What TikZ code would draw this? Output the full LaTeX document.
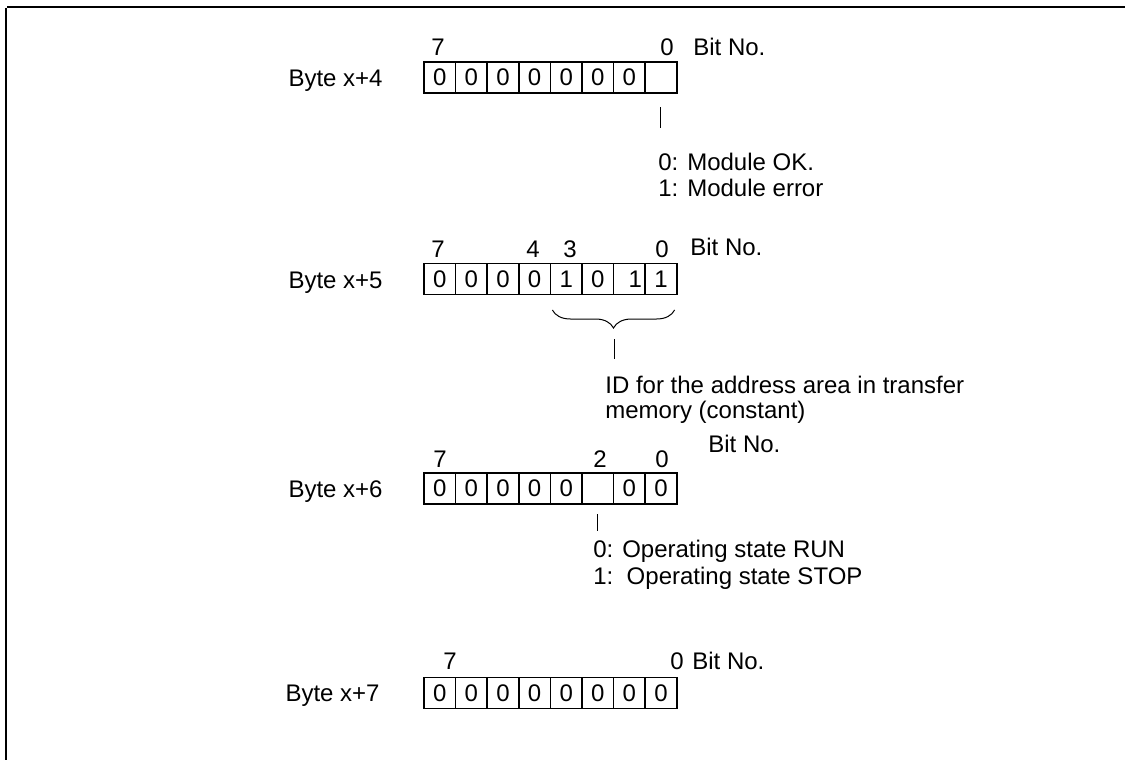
\documentclass[tikz,border=0pt]{standalone}
\usepackage{fontspec}
\setmainfont{Liberation Sans}
\usepackage{tikz}
\usetikzlibrary{decorations.pathreplacing}
\pgfdeclarelayer{edgelayer}
\pgfdeclarelayer{nodelayer}
\pgfsetlayers{edgelayer,nodelayer,main}
\tikzstyle{none}=[inner sep=0pt, font=\fontsize{12}{14}\selectfont]
\tikzstyle{edge}=[draw=black, line width=0.5pt]
\tikzstyle{frame}=[draw=black, line width=1pt]
\tikzstyle{bit}=[rectangle, draw=black, line width=0.8pt, minimum width=15.8pt, minimum height=15.5pt, inner sep=0pt, font=\fontsize{12}{14}\selectfont]
\tikzstyle{bytename}=[none, anchor=base east]
\tikzstyle{note}=[none, anchor=base west]
\tikzstyle{bitno}=[none, anchor=west]
\tikzstyle{brace}=[edge, decorate, decoration={brace, mirror, amplitude=9pt}]

\begin{document}
\begin{tikzpicture}[x=0.5pt, y=-0.5pt]
				\useasboundingbox (0, 0) rectangle (1126, 761);
				\begin{pgfonlayer}{nodelayer}
					% Byte x+4
					\node [style=bytename] (0) at (383, 86) {Byte x+4};
					\node [style=bit] (1) at (439.8, 77.5) {0};
					\node [style=bit] (2) at (471.4, 77.5) {0};
					\node [style=bit] (3) at (503, 77.5) {0};
					\node [style=bit] (4) at (534.6, 77.5) {0};
					\node [style=bit] (5) at (566.2, 77.5) {0};
					\node [style=bit] (6) at (597.8, 77.5) {0};
					\node [style=bit] (7) at (629.4, 77.5) {\raisebox{-2pt}{0}};
					\node [style=bit] (8) at (661, 77.5) {};
					\node [style=none] (9) at (438, 47) {7};
					\node [style=none] (10) at (667, 47) {0};
					\node [style=bitno] (11) at (693, 47) {Bit No.};
					\node [style=none] (12) at (660, 106) {};
					\node [style=none] (13) at (660, 129) {};
					\node [style=note] (14) at (658, 170) {0: Module OK.};
					\node [style=note] (15) at (658, 196) {1: Module error};
					% Byte x+5
					\node [style=bytename] (16) at (383, 288) {Byte x+5};
					\node [style=bit] (17) at (439.8, 279) {0};
					\node [style=bit] (18) at (471.4, 279) {0};
					\node [style=bit] (19) at (503, 279) {0};
					\node [style=bit] (20) at (534.6, 279) {0};
					\node [style=bit] (21) at (566.2, 279) {1};
					\node [style=bit] (22) at (597.8, 279) {0};
					\node [style=bit] (23) at (629.4, 279) {\hspace*{6pt}1};
					\node [style=bit] (24) at (661, 279) {1};
					\node [style=none] (25) at (438, 249) {7};
					\node [style=none] (26) at (533, 249) {4};
					\node [style=none] (27) at (570, 249) {3};
					\node [style=none] (28) at (662, 249) {0};
					\node [style=bitno] (29) at (690, 247) {Bit No.};
					\node [style=none] (30) at (551, 310) {};
					\node [style=none] (31) at (676, 310) {};
					\node [style=none] (32) at (614, 338) {};
					\node [style=none] (33) at (614, 360) {};
					\node [style=note] (34) at (605, 393) {ID for the address area in transfer};
					\node [style=note] (35) at (605, 418) {memory (constant)};
					% Byte x+6
					\node [style=bytename] (36) at (383, 497) {Byte x+6};
					\node [style=bit] (37) at (439.8, 488.5) {0};
					\node [style=bit] (38) at (471.4, 488.5) {0};
					\node [style=bit] (39) at (503, 488.5) {0};
					\node [style=bit] (40) at (534.6, 488.5) {0};
					\node [style=bit] (41) at (566.2, 488.5) {0};
					\node [style=bit] (42) at (597.8, 488.5) {};
					\node [style=bit] (43) at (629.4, 488.5) {0};
					\node [style=bit] (44) at (661, 488.5) {0};
					\node [style=none] (45) at (440, 459) {7};
					\node [style=none] (46) at (600, 459) {2};
					\node [style=none] (47) at (662, 459) {0};
					\node [style=bitno] (48) at (708, 444) {Bit No.};
					\node [style=none] (49) at (597, 513) {};
					\node [style=none] (50) at (597, 532) {};
					\node [style=note] (51) at (593, 557) {0: Operating state RUN};
					\node [style=note] (52) at (593, 584) {1:\ \ Operating state STOP};
					% Byte x+7
					\node [style=bytename] (53) at (380, 701.6) {Byte x+7};
					\node [style=bit] (54) at (439.8, 693) {0};
					\node [style=bit] (55) at (471.4, 693) {0};
					\node [style=bit] (56) at (503, 693) {0};
					\node [style=bit] (57) at (534.6, 693) {0};
					\node [style=bit] (58) at (566.2, 693) {0};
					\node [style=bit] (59) at (597.8, 693) {0};
					\node [style=bit] (60) at (629.4, 693) {0};
					\node [style=bit] (61) at (661, 693) {0};
					\node [style=none] (62) at (450, 661) {7};
					\node [style=none] (63) at (677, 661) {0};
					\node [style=bitno] (64) at (692, 661) {Bit No.};
					% frame corners
					\node [style=none] (65) at (6, 7) {};
					\node [style=none] (66) at (1126, 7) {};
					\node [style=none] (67) at (6, 761) {};
				\end{pgfonlayer}
				\begin{pgfonlayer}{edgelayer}
					\draw [style=frame] (66) to (65) to (67);
					\draw [style=edge] (12) to (13);
					\draw [style=brace] (30) to (31);
					\draw [style=edge] (32) to (33);
					\draw [style=edge] (49) to (50);
				\end{pgfonlayer}
			\end{tikzpicture}
\end{document}
